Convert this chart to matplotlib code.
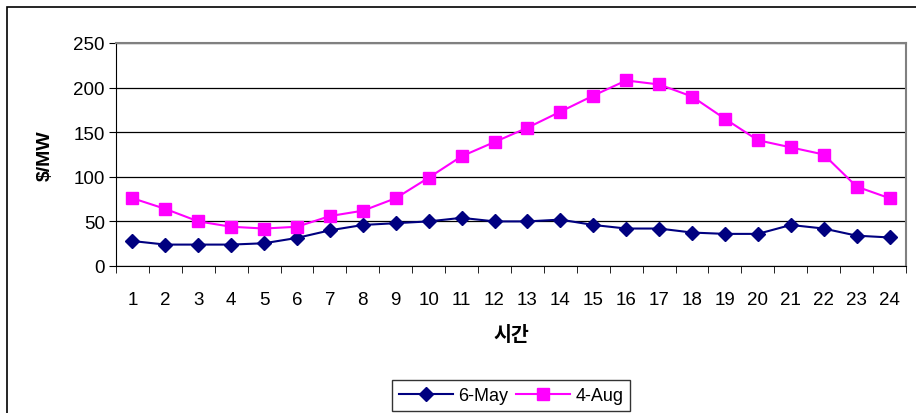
import matplotlib.pyplot as plt
from matplotlib.patches import Rectangle

plt.rcParams['font.family'] = ['Liberation Sans', 'Noto Sans CJK KR', 'DejaVu Sans']

hours = list(range(1, 25))
may_6 = [28, 24, 24, 24, 25.5, 31.5, 40, 46, 48, 50, 54, 50,
         50, 52, 46, 42, 42, 37.5, 36, 36, 46, 42, 34, 32]
aug_4 = [76, 64, 50, 44, 42, 44, 56, 62, 76, 99, 123, 139,
         155, 173, 191, 208, 203.5, 190, 165, 141, 133, 125, 89, 76]
y_ticks = [0, 50, 100, 150, 200, 250]

fig = plt.figure(figsize=(9.16, 4.14), dpi=100)
ax = fig.add_axes([116 / 916, 1 - 267 / 414, 790 / 916, 223 / 414])

# outer chart frame
fig.patches.append(Rectangle((7 / 916, -0.05), 1.0, 1 - 8 / 414 + 0.05,
                             transform=fig.transFigure, fill=False,
                             edgecolor='black', linewidth=1.2))

ax.plot(hours, may_6, color='#000080', marker='D', markersize=7,
        linewidth=1.5, label='6-May')
ax.plot(hours, aug_4, color='#FF00FF', marker='s', markersize=9,
        linewidth=1.5, label='4-Aug')

ax.set_xlim(0.5, 24.5)
ax.set_ylim(0, 250)
ax.set_yticks(y_ticks)
ax.set_xticks(hours)
ax.set_xticks([h + 0.5 for h in range(0, 25)], minor=True)
ax.tick_params(axis='x', which='major', length=0, pad=18, labelsize=13.5)
ax.tick_params(axis='x', which='minor', length=5, direction='out', color='black')
ax.tick_params(axis='y', length=5, direction='out', labelsize=13.5, pad=3)
ax.yaxis.grid(True, color='black', linewidth=0.9)
ax.set_axisbelow(True)

for side in ['top', 'right']:
    ax.spines[side].set_color('#808080')
    ax.spines[side].set_linewidth(1.5)
ax.spines['left'].set_color('black')
ax.spines['bottom'].set_color('black')

ax.set_ylabel('$/MW', fontsize=14, fontweight='bold', labelpad=14)
ax.set_xlabel('시간', fontsize=14, fontweight='bold', labelpad=12)

leg = ax.legend(loc='upper center', bbox_to_anchor=(0.5, -0.47), ncol=2,
                fontsize=13, frameon=True, fancybox=False, edgecolor='black',
                handlelength=3, columnspacing=0.4, handletextpad=0.3,
                borderpad=0.4)
leg.get_frame().set_linewidth(1.0)

fig.savefig('out.png', dpi=100)
